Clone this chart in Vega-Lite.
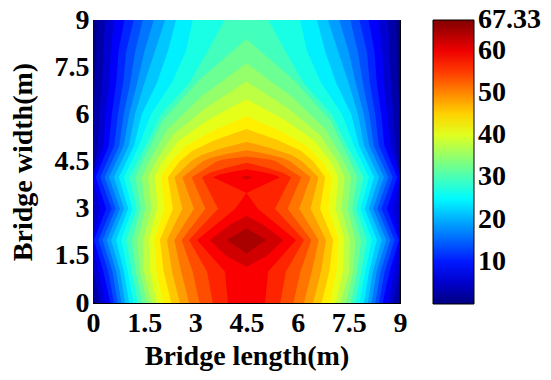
{
"$schema":"https://vega.github.io/schema/vega-lite/v6.json",
"autosize":{"type":"none"},
"padding":{"left":93,"top":20,"right":151,"bottom":77},
"width":307,"height":283,
"background":"white",
"config":{"view":{"stroke":"black","strokeWidth":1},
"axis":{"labelFont":"Liberation Serif","labelFontWeight":"bold","labelFontSize":28,"labelColor":"black","titleFont":"Liberation Serif","titleFontWeight":"bold","titleFontSize":28,"titleColor":"black","domainColor":"black","tickColor":"black","grid":false,"labelFlush":false,"labelOverlap":false}},
"data":{"values":[
{"p":0,"l":0,"x":0,"y":0},{"p":0,"l":0,"x":0,"y":9},{"p":0,"l":0,"x":9,"y":9},{"p":0,"l":0,"x":9,"y":0},
{"p":1,"l":2.69,"x":0.041,"y":0},{"p":1,"l":2.69,"x":0,"y":1},{"p":1,"l":2.69,"x":0,"y":2},{"p":1,"l":2.69,"x":0,"y":3},{"p":1,"l":2.69,"x":0,"y":4},{"p":1,"l":2.69,"x":0,"y":5},{"p":1,"l":2.69,"x":0.013,"y":6},{"p":1,"l":2.69,"x":0.054,"y":7},{"p":1,"l":2.69,"x":0.094,"y":8},{"p":1,"l":2.69,"x":0.108,"y":9},
{"p":1,"l":2.69,"x":8.892,"y":9},{"p":1,"l":2.69,"x":8.906,"y":8},{"p":1,"l":2.69,"x":8.946,"y":7},{"p":1,"l":2.69,"x":8.987,"y":6},{"p":1,"l":2.69,"x":9,"y":5},{"p":1,"l":2.69,"x":9,"y":4},{"p":1,"l":2.69,"x":9,"y":3},{"p":1,"l":2.69,"x":9,"y":2},{"p":1,"l":2.69,"x":9,"y":1},{"p":1,"l":2.69,"x":8.959,"y":0},
{"p":2,"l":5.39,"x":0.199,"y":0},{"p":2,"l":5.39,"x":0.021,"y":1},{"p":2,"l":5.39,"x":0,"y":2},{"p":2,"l":5.39,"x":0.026,"y":3},{"p":2,"l":5.39,"x":0,"y":4},{"p":2,"l":5.39,"x":0.14,"y":5},{"p":2,"l":5.39,"x":0.193,"y":6},{"p":2,"l":5.39,"x":0.265,"y":7},{"p":2,"l":5.39,"x":0.309,"y":8},{"p":2,"l":5.39,"x":0.354,"y":9},
{"p":2,"l":5.39,"x":8.646,"y":9},{"p":2,"l":5.39,"x":8.691,"y":8},{"p":2,"l":5.39,"x":8.735,"y":7},{"p":2,"l":5.39,"x":8.807,"y":6},{"p":2,"l":5.39,"x":8.86,"y":5},{"p":2,"l":5.39,"x":9,"y":4},{"p":2,"l":5.39,"x":8.974,"y":3},{"p":2,"l":5.39,"x":9,"y":2},{"p":2,"l":5.39,"x":8.979,"y":1},{"p":2,"l":5.39,"x":8.801,"y":0},
{"p":3,"l":8.08,"x":0.358,"y":0},{"p":3,"l":8.08,"x":0.162,"y":1},{"p":3,"l":8.08,"x":0,"y":2},{"p":3,"l":8.08,"x":0.205,"y":3},{"p":3,"l":8.08,"x":0,"y":4},{"p":3,"l":8.08,"x":0.3,"y":5},{"p":3,"l":8.08,"x":0.372,"y":6},{"p":3,"l":8.08,"x":0.475,"y":7},{"p":3,"l":8.08,"x":0.523,"y":8},{"p":3,"l":8.08,"x":0.62,"y":9},
{"p":3,"l":8.08,"x":8.38,"y":9},{"p":3,"l":8.08,"x":8.477,"y":8},{"p":3,"l":8.08,"x":8.525,"y":7},{"p":3,"l":8.08,"x":8.628,"y":6},{"p":3,"l":8.08,"x":8.7,"y":5},{"p":3,"l":8.08,"x":9,"y":4},{"p":3,"l":8.08,"x":8.795,"y":3},{"p":3,"l":8.08,"x":9,"y":2},{"p":3,"l":8.08,"x":8.838,"y":1},{"p":3,"l":8.08,"x":8.642,"y":0},
{"p":4,"l":10.77,"x":0.511,"y":0},{"p":4,"l":10.77,"x":0.304,"y":1},{"p":4,"l":10.77,"x":0.035,"y":2},{"p":4,"l":10.77,"x":0.385,"y":3},{"p":4,"l":10.77,"x":0.084,"y":4},{"p":4,"l":10.77,"x":0.46,"y":5},{"p":4,"l":10.77,"x":0.551,"y":6},{"p":4,"l":10.77,"x":0.68,"y":7},{"p":4,"l":10.77,"x":0.747,"y":8},{"p":4,"l":10.77,"x":0.919,"y":9},
{"p":4,"l":10.77,"x":8.081,"y":9},{"p":4,"l":10.77,"x":8.253,"y":8},{"p":4,"l":10.77,"x":8.32,"y":7},{"p":4,"l":10.77,"x":8.449,"y":6},{"p":4,"l":10.77,"x":8.54,"y":5},{"p":4,"l":10.77,"x":8.916,"y":4},{"p":4,"l":10.77,"x":8.615,"y":3},{"p":4,"l":10.77,"x":8.965,"y":2},{"p":4,"l":10.77,"x":8.696,"y":1},{"p":4,"l":10.77,"x":8.489,"y":0},
{"p":5,"l":13.47,"x":0.619,"y":0},{"p":5,"l":13.47,"x":0.446,"y":1},{"p":5,"l":13.47,"x":0.158,"y":2},{"p":5,"l":13.47,"x":0.544,"y":3},{"p":5,"l":13.47,"x":0.213,"y":4},{"p":5,"l":13.47,"x":0.62,"y":5},{"p":5,"l":13.47,"x":0.731,"y":6},{"p":5,"l":13.47,"x":0.884,"y":7},{"p":5,"l":13.47,"x":0.972,"y":8},{"p":5,"l":13.47,"x":1.193,"y":9},
{"p":5,"l":13.47,"x":7.807,"y":9},{"p":5,"l":13.47,"x":8.028,"y":8},{"p":5,"l":13.47,"x":8.116,"y":7},{"p":5,"l":13.47,"x":8.269,"y":6},{"p":5,"l":13.47,"x":8.38,"y":5},{"p":5,"l":13.47,"x":8.787,"y":4},{"p":5,"l":13.47,"x":8.456,"y":3},{"p":5,"l":13.47,"x":8.842,"y":2},{"p":5,"l":13.47,"x":8.554,"y":1},{"p":5,"l":13.47,"x":8.381,"y":0},
{"p":6,"l":16.16,"x":0.726,"y":0},{"p":6,"l":16.16,"x":0.569,"y":1},{"p":6,"l":16.16,"x":0.28,"y":2},{"p":6,"l":16.16,"x":0.666,"y":3},{"p":6,"l":16.16,"x":0.341,"y":4},{"p":6,"l":16.16,"x":0.77,"y":5},{"p":6,"l":16.16,"x":0.9,"y":6},{"p":6,"l":16.16,"x":1.089,"y":7},{"p":6,"l":16.16,"x":1.236,"y":8},{"p":6,"l":16.16,"x":1.457,"y":9},
{"p":6,"l":16.16,"x":7.543,"y":9},{"p":6,"l":16.16,"x":7.764,"y":8},{"p":6,"l":16.16,"x":7.911,"y":7},{"p":6,"l":16.16,"x":8.1,"y":6},{"p":6,"l":16.16,"x":8.23,"y":5},{"p":6,"l":16.16,"x":8.659,"y":4},{"p":6,"l":16.16,"x":8.334,"y":3},{"p":6,"l":16.16,"x":8.72,"y":2},{"p":6,"l":16.16,"x":8.431,"y":1},{"p":6,"l":16.16,"x":8.274,"y":0},
{"p":7,"l":18.85,"x":0.834,"y":0},{"p":7,"l":18.85,"x":0.681,"y":1},{"p":7,"l":18.85,"x":0.402,"y":2},{"p":7,"l":18.85,"x":0.789,"y":3},{"p":7,"l":18.85,"x":0.469,"y":4},{"p":7,"l":18.85,"x":0.9,"y":5},{"p":7,"l":18.85,"x":1.06,"y":6},{"p":7,"l":18.85,"x":1.296,"y":7},{"p":7,"l":18.85,"x":1.506,"y":8},{"p":7,"l":18.85,"x":1.781,"y":9},
{"p":7,"l":18.85,"x":7.219,"y":9},{"p":7,"l":18.85,"x":7.494,"y":8},{"p":7,"l":18.85,"x":7.704,"y":7},{"p":7,"l":18.85,"x":7.94,"y":6},{"p":7,"l":18.85,"x":8.1,"y":5},{"p":7,"l":18.85,"x":8.531,"y":4},{"p":7,"l":18.85,"x":8.211,"y":3},{"p":7,"l":18.85,"x":8.598,"y":2},{"p":7,"l":18.85,"x":8.319,"y":1},{"p":7,"l":18.85,"x":8.166,"y":0},
{"p":8,"l":21.55,"x":0.942,"y":0},{"p":8,"l":21.55,"x":0.794,"y":1},{"p":8,"l":21.55,"x":0.53,"y":2},{"p":8,"l":21.55,"x":0.911,"y":3},{"p":8,"l":21.55,"x":0.613,"y":4},{"p":8,"l":21.55,"x":1.05,"y":5},{"p":8,"l":21.55,"x":1.23,"y":6},{"p":8,"l":21.55,"x":1.507,"y":7},{"p":8,"l":21.55,"x":1.812,"y":8},{"p":8,"l":21.55,"x":2.113,"y":9},
{"p":8,"l":21.55,"x":6.887,"y":9},{"p":8,"l":21.55,"x":7.188,"y":8},{"p":8,"l":21.55,"x":7.493,"y":7},{"p":8,"l":21.55,"x":7.77,"y":6},{"p":8,"l":21.55,"x":7.95,"y":5},{"p":8,"l":21.55,"x":8.387,"y":4},{"p":8,"l":21.55,"x":8.089,"y":3},{"p":8,"l":21.55,"x":8.47,"y":2},{"p":8,"l":21.55,"x":8.206,"y":1},{"p":8,"l":21.55,"x":8.058,"y":0},
{"p":9,"l":24.24,"x":1.059,"y":0},{"p":9,"l":24.24,"x":0.906,"y":1},{"p":9,"l":24.24,"x":0.678,"y":2},{"p":9,"l":24.24,"x":1.034,"y":3},{"p":9,"l":24.24,"x":0.76,"y":4},{"p":9,"l":24.24,"x":1.2,"y":5},{"p":9,"l":24.24,"x":1.43,"y":6},{"p":9,"l":24.24,"x":1.87,"y":7},{"p":9,"l":24.24,"x":2.193,"y":8},{"p":9,"l":24.24,"x":2.433,"y":9},
{"p":9,"l":24.24,"x":6.567,"y":9},{"p":9,"l":24.24,"x":6.807,"y":8},{"p":9,"l":24.24,"x":7.13,"y":7},{"p":9,"l":24.24,"x":7.57,"y":6},{"p":9,"l":24.24,"x":7.8,"y":5},{"p":9,"l":24.24,"x":8.24,"y":4},{"p":9,"l":24.24,"x":7.966,"y":3},{"p":9,"l":24.24,"x":8.322,"y":2},{"p":9,"l":24.24,"x":8.094,"y":1},{"p":9,"l":24.24,"x":7.941,"y":0},
{"p":10,"l":26.93,"x":1.187,"y":0},{"p":10,"l":26.93,"x":1.019,"y":1},{"p":10,"l":26.93,"x":0.826,"y":2},{"p":10,"l":26.93,"x":1.156,"y":3},{"p":10,"l":26.93,"x":0.908,"y":4},{"p":10,"l":26.93,"x":1.35,"y":5},{"p":10,"l":26.93,"x":1.7,"y":6},{"p":10,"l":26.93,"x":2.309,"y":7},{"p":10,"l":26.93,"x":2.724,"y":8},{"p":10,"l":26.93,"x":2.926,"y":9},
{"p":10,"l":26.93,"x":6.074,"y":9},{"p":10,"l":26.93,"x":6.276,"y":8},{"p":10,"l":26.93,"x":6.691,"y":7},{"p":10,"l":26.93,"x":7.3,"y":6},{"p":10,"l":26.93,"x":7.65,"y":5},{"p":10,"l":26.93,"x":8.092,"y":4},{"p":10,"l":26.93,"x":7.844,"y":3},{"p":10,"l":26.93,"x":8.174,"y":2},{"p":10,"l":26.93,"x":7.981,"y":1},{"p":10,"l":26.93,"x":7.813,"y":0},
{"p":11,"l":29.62,"x":1.315,"y":0},{"p":11,"l":29.62,"x":1.136,"y":1},{"p":11,"l":29.62,"x":0.974,"y":2},{"p":11,"l":29.62,"x":1.278,"y":3},{"p":11,"l":29.62,"x":1.069,"y":4},{"p":11,"l":29.62,"x":1.55,"y":5},{"p":11,"l":29.62,"x":2.0,"y":6},{"p":11,"l":29.62,"x":2.824,"y":7},{"p":11,"l":29.62,"x":3.355,"y":8},{"p":11,"l":29.62,"x":3.864,"y":9},
{"p":11,"l":29.62,"x":5.136,"y":9},{"p":11,"l":29.62,"x":5.645,"y":8},{"p":11,"l":29.62,"x":6.176,"y":7},{"p":11,"l":29.62,"x":7.0,"y":6},{"p":11,"l":29.62,"x":7.45,"y":5},{"p":11,"l":29.62,"x":7.931,"y":4},{"p":11,"l":29.62,"x":7.722,"y":3},{"p":11,"l":29.62,"x":8.026,"y":2},{"p":11,"l":29.62,"x":7.864,"y":1},{"p":11,"l":29.62,"x":7.685,"y":0},
{"p":12,"l":32.32,"x":1.444,"y":0},{"p":12,"l":32.32,"x":1.253,"y":1},{"p":12,"l":32.32,"x":1.137,"y":2},{"p":12,"l":32.32,"x":1.401,"y":3},{"p":12,"l":32.32,"x":1.251,"y":4},{"p":12,"l":32.32,"x":1.455,"y":4.5},{"p":12,"l":32.32,"x":2.04,"y":5.797},{"p":12,"l":32.32,"x":3.111,"y":7.095},{"p":12,"l":32.32,"x":4.5,"y":8.392},
{"p":12,"l":32.32,"x":5.889,"y":7.095},{"p":12,"l":32.32,"x":6.96,"y":5.797},{"p":12,"l":32.32,"x":7.545,"y":4.5},{"p":12,"l":32.32,"x":7.749,"y":4},{"p":12,"l":32.32,"x":7.599,"y":3},{"p":12,"l":32.32,"x":7.863,"y":2},{"p":12,"l":32.32,"x":7.747,"y":1},{"p":12,"l":32.32,"x":7.556,"y":0},
{"p":13,"l":35.01,"x":1.584,"y":0},{"p":13,"l":35.01,"x":1.37,"y":1},{"p":13,"l":35.01,"x":1.303,"y":2},{"p":13,"l":35.01,"x":1.534,"y":3},{"p":13,"l":35.01,"x":1.433,"y":4},{"p":13,"l":35.01,"x":1.644,"y":4.5},{"p":13,"l":35.01,"x":2.192,"y":5.543},{"p":13,"l":35.01,"x":3.198,"y":6.585},{"p":13,"l":35.01,"x":4.5,"y":7.628},
{"p":13,"l":35.01,"x":5.802,"y":6.585},{"p":13,"l":35.01,"x":6.808,"y":5.543},{"p":13,"l":35.01,"x":7.356,"y":4.5},{"p":13,"l":35.01,"x":7.567,"y":4},{"p":13,"l":35.01,"x":7.466,"y":3},{"p":13,"l":35.01,"x":7.697,"y":2},{"p":13,"l":35.01,"x":7.63,"y":1},{"p":13,"l":35.01,"x":7.416,"y":0},
{"p":14,"l":37.7,"x":1.733,"y":0},{"p":14,"l":37.7,"x":1.487,"y":1},{"p":14,"l":37.7,"x":1.469,"y":2},{"p":14,"l":37.7,"x":1.713,"y":3},{"p":14,"l":37.7,"x":1.62,"y":4},{"p":14,"l":37.7,"x":1.836,"y":4.5},{"p":14,"l":37.7,"x":2.347,"y":5.348},{"p":14,"l":37.7,"x":3.285,"y":6.195},{"p":14,"l":37.7,"x":4.5,"y":7.043},
{"p":14,"l":37.7,"x":5.715,"y":6.195},{"p":14,"l":37.7,"x":6.653,"y":5.348},{"p":14,"l":37.7,"x":7.164,"y":4.5},{"p":14,"l":37.7,"x":7.38,"y":4},{"p":14,"l":37.7,"x":7.287,"y":3},{"p":14,"l":37.7,"x":7.531,"y":2},{"p":14,"l":37.7,"x":7.513,"y":1},{"p":14,"l":37.7,"x":7.267,"y":0},
{"p":15,"l":40.4,"x":1.883,"y":0},{"p":15,"l":40.4,"x":1.671,"y":1},{"p":15,"l":40.4,"x":1.634,"y":2},{"p":15,"l":40.4,"x":1.893,"y":3},{"p":15,"l":40.4,"x":1.81,"y":4},{"p":15,"l":40.4,"x":2.036,"y":4.5},{"p":15,"l":40.4,"x":2.509,"y":5.16},{"p":15,"l":40.4,"x":3.376,"y":5.819},{"p":15,"l":40.4,"x":4.5,"y":6.479},
{"p":15,"l":40.4,"x":5.624,"y":5.819},{"p":15,"l":40.4,"x":6.491,"y":5.16},{"p":15,"l":40.4,"x":6.964,"y":4.5},{"p":15,"l":40.4,"x":7.19,"y":4},{"p":15,"l":40.4,"x":7.107,"y":3},{"p":15,"l":40.4,"x":7.366,"y":2},{"p":15,"l":40.4,"x":7.329,"y":1},{"p":15,"l":40.4,"x":7.117,"y":0},
{"p":16,"l":43.09,"x":2.054,"y":0},{"p":16,"l":43.09,"x":1.864,"y":1},{"p":16,"l":43.09,"x":1.798,"y":2},{"p":16,"l":43.09,"x":2.099,"y":3},{"p":16,"l":43.09,"x":1.999,"y":4},{"p":16,"l":43.09,"x":2.281,"y":4.5},{"p":16,"l":43.09,"x":2.707,"y":4.98},{"p":16,"l":43.09,"x":3.488,"y":5.461},{"p":16,"l":43.09,"x":4.5,"y":5.941},
{"p":16,"l":43.09,"x":5.512,"y":5.461},{"p":16,"l":43.09,"x":6.293,"y":4.98},{"p":16,"l":43.09,"x":6.719,"y":4.5},{"p":16,"l":43.09,"x":7.001,"y":4},{"p":16,"l":43.09,"x":6.901,"y":3},{"p":16,"l":43.09,"x":7.202,"y":2},{"p":16,"l":43.09,"x":7.136,"y":1},{"p":16,"l":43.09,"x":6.946,"y":0},
{"p":17,"l":45.78,"x":2.298,"y":0},{"p":17,"l":45.78,"x":2.071,"y":1},{"p":17,"l":45.78,"x":1.962,"y":2},{"p":17,"l":45.78,"x":2.344,"y":3},{"p":17,"l":45.78,"x":2.194,"y":4},{"p":17,"l":45.78,"x":2.534,"y":4.5},{"p":17,"l":45.78,"x":2.911,"y":4.844},{"p":17,"l":45.78,"x":3.604,"y":5.189},{"p":17,"l":45.78,"x":4.5,"y":5.533},
{"p":17,"l":45.78,"x":5.396,"y":5.189},{"p":17,"l":45.78,"x":6.089,"y":4.844},{"p":17,"l":45.78,"x":6.466,"y":4.5},{"p":17,"l":45.78,"x":6.806,"y":4},{"p":17,"l":45.78,"x":6.656,"y":3},{"p":17,"l":45.78,"x":7.038,"y":2},{"p":17,"l":45.78,"x":6.929,"y":1},{"p":17,"l":45.78,"x":6.702,"y":0},
{"p":18,"l":48.48,"x":2.548,"y":0},{"p":18,"l":48.48,"x":2.316,"y":1},{"p":18,"l":48.48,"x":2.168,"y":2},{"p":18,"l":48.48,"x":2.622,"y":3},{"p":18,"l":48.48,"x":2.39,"y":4},{"p":18,"l":48.48,"x":2.863,"y":4.5},{"p":18,"l":48.48,"x":3.177,"y":4.708},{"p":18,"l":48.48,"x":3.754,"y":4.916},{"p":18,"l":48.48,"x":4.5,"y":5.124},
{"p":18,"l":48.48,"x":5.246,"y":4.916},{"p":18,"l":48.48,"x":5.823,"y":4.708},{"p":18,"l":48.48,"x":6.137,"y":4.5},{"p":18,"l":48.48,"x":6.61,"y":4},{"p":18,"l":48.48,"x":6.378,"y":3},{"p":18,"l":48.48,"x":6.832,"y":2},{"p":18,"l":48.48,"x":6.684,"y":1},{"p":18,"l":48.48,"x":6.452,"y":0},
{"p":19,"l":51.17,"x":2.817,"y":0},{"p":19,"l":51.17,"x":2.584,"y":1},{"p":19,"l":51.17,"x":2.385,"y":2},{"p":19,"l":51.17,"x":2.959,"y":3},{"p":19,"l":51.17,"x":2.619,"y":4},{"p":19,"l":51.17,"x":3.207,"y":4.5},{"p":19,"l":51.17,"x":3.455,"y":4.62},{"p":19,"l":51.17,"x":3.91,"y":4.74},{"p":19,"l":51.17,"x":4.5,"y":4.86},
{"p":19,"l":51.17,"x":5.09,"y":4.74},{"p":19,"l":51.17,"x":5.545,"y":4.62},{"p":19,"l":51.17,"x":5.793,"y":4.5},{"p":19,"l":51.17,"x":6.381,"y":4},{"p":19,"l":51.17,"x":6.041,"y":3},{"p":19,"l":51.17,"x":6.615,"y":2},{"p":19,"l":51.17,"x":6.416,"y":1},{"p":19,"l":51.17,"x":6.183,"y":0},
{"p":20,"l":53.86,"x":3.123,"y":0},{"p":20,"l":53.86,"x":2.92,"y":1},{"p":20,"l":53.86,"x":2.6,"y":2},{"p":20,"l":53.86,"x":3.295,"y":3},{"p":20,"l":53.86,"x":2.894,"y":4},{"p":20,"l":53.86,"x":3.621,"y":4.5},{"p":20,"l":53.86,"x":3.79,"y":4.553},{"p":20,"l":53.86,"x":4.099,"y":4.607},{"p":20,"l":53.86,"x":4.5,"y":4.66},
{"p":20,"l":53.86,"x":4.901,"y":4.607},{"p":20,"l":53.86,"x":5.21,"y":4.553},{"p":20,"l":53.86,"x":5.379,"y":4.5},{"p":20,"l":53.86,"x":6.106,"y":4},{"p":20,"l":53.86,"x":5.705,"y":3},{"p":20,"l":53.86,"x":6.4,"y":2},{"p":20,"l":53.86,"x":6.08,"y":1},{"p":20,"l":53.86,"x":5.877,"y":0},
{"p":21,"l":56.56,"x":3.51,"y":0},{"p":21,"l":56.56,"x":3.343,"y":1},{"p":21,"l":56.56,"x":2.814,"y":2},{"p":21,"l":56.56,"x":3.666,"y":3},{"p":21,"l":56.56,"x":3.193,"y":4},{"p":21,"l":56.56,"x":3.444,"y":4.152},{"p":21,"l":56.56,"x":3.904,"y":4.305},{"p":21,"l":56.56,"x":4.5,"y":4.457},
{"p":21,"l":56.56,"x":5.096,"y":4.305},{"p":21,"l":56.56,"x":5.556,"y":4.152},{"p":21,"l":56.56,"x":5.807,"y":4},{"p":21,"l":56.56,"x":5.334,"y":3},{"p":21,"l":56.56,"x":6.186,"y":2},{"p":21,"l":56.56,"x":5.657,"y":1},{"p":21,"l":56.56,"x":5.49,"y":0},
{"p":22,"l":59.25,"x":3.958,"y":0},{"p":22,"l":59.25,"x":3.865,"y":1},{"p":22,"l":59.25,"x":3.049,"y":2},{"p":22,"l":59.25,"x":4.172,"y":3},{"p":22,"l":59.25,"x":4.5,"y":3.5},{"p":22,"l":59.25,"x":3.518,"y":4},{"p":22,"l":59.25,"x":3.707,"y":4.085},{"p":22,"l":59.25,"x":4.052,"y":4.169},{"p":22,"l":59.25,"x":4.5,"y":4.254},{"p":22,"l":59.25,"x":4.948,"y":4.169},{"p":22,"l":59.25,"x":5.293,"y":4.085},{"p":22,"l":59.25,"x":5.482,"y":4},{"p":22,"l":59.25,"x":4.5,"y":3.5},{"p":22,"l":59.25,"x":4.828,"y":3},{"p":22,"l":59.25,"x":5.951,"y":2},{"p":22,"l":59.25,"x":5.135,"y":1},{"p":22,"l":59.25,"x":5.042,"y":0},
{"p":23,"l":61.94,"x":4.5,"y":1.149},{"p":23,"l":61.94,"x":3.896,"y":1.5},{"p":23,"l":61.94,"x":3.422,"y":2},{"p":23,"l":61.94,"x":4.023,"y":2.5},{"p":23,"l":61.94,"x":4.5,"y":2.766},{"p":23,"l":61.94,"x":4.977,"y":2.5},{"p":23,"l":61.94,"x":5.578,"y":2},{"p":23,"l":61.94,"x":5.104,"y":1.5},
{"p":24,"l":61.94,"x":4.5,"y":3.92},{"p":24,"l":61.94,"x":4.353,"y":4},{"p":24,"l":61.94,"x":4.5,"y":4.043},{"p":24,"l":61.94,"x":4.647,"y":4},
{"p":25,"l":64.64,"x":4.5,"y":1.578},{"p":25,"l":64.64,"x":3.922,"y":2},{"p":25,"l":64.64,"x":4.5,"y":2.38},{"p":25,"l":64.64,"x":5.078,"y":2}
]},
"layer":[
{"mark":{"type":"line","filled":true,"interpolate":"linear","clip":true},
"encoding":{
"x":{"field":"x","type":"quantitative","scale":{"domain":[0,9],"nice":false,"zero":false},"axis":{"title":"Bridge length(m)","values":[0,1.5,3,4.5,6,7.5,9],"labelExpr":"''+datum.value","tickSize":-5,"labelPadding":11,"titlePadding":5}},
"y":{"field":"y","type":"quantitative","scale":{"domain":[0,9],"nice":false,"zero":false},"axis":{"title":"Bridge width(m)","values":[0,1.5,3,4.5,6,7.5,9],"labelExpr":"''+datum.value","tickSize":-5,"labelPadding":9,"titlePadding":17}},
"color":{"field":"l","type":"quantitative","scale":{"domain":[0,8.416,25.249,42.081,58.914,67.33],"range":["#000080","#0000ff","#00ffff","#ffff00","#ff0000","#800000"],"interpolate":"rgb"},
"legend":{"orient":"none","legendX":340,"legendY":0,"direction":"vertical","title":null,"padding":0,"gradientLength":284,"gradientThickness":41,"gradientStrokeColor":"black","gradientStrokeWidth":1,"values":[10,20,30,40,50,60,67.33],"labelExpr":"''+datum.value","labelFont":"Liberation Serif","labelFontWeight":"bold","labelFontSize":28,"labelColor":"black","labelOffset":4,"labelOverlap":false,"labelBaseline":"middle","encode":{"labels":{"enter":{"baseline":{"value":"middle"}},"update":{"baseline":{"value":"middle"}}}}}},
"detail":{"field":"p","type":"nominal"},
"order":{"value":null}
}},
{"mark":{"type":"point","opacity":0},
"encoding":{
"x":{"field":"x","type":"quantitative","axis":{"orient":"top","labels":false,"title":null,"domain":false,"values":[0,1.5,3,4.5,6,7.5,9],"tickSize":-5}},
"y":{"field":"y","type":"quantitative","axis":{"orient":"right","labels":false,"title":null,"domain":false,"values":[0,1.5,3,4.5,6,7.5,9],"tickSize":-5}}
}}
],
"resolve":{"axis":{"x":"independent","y":"independent"}}
}
